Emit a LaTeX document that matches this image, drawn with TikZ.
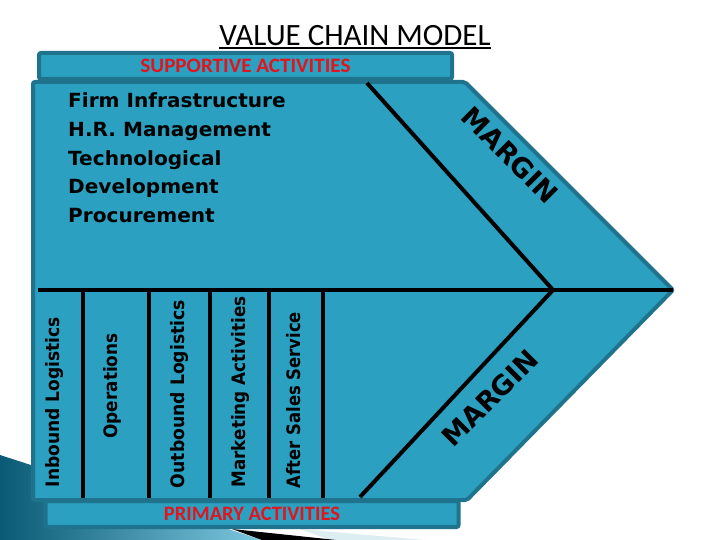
\documentclass[tikz,border=0pt]{standalone}
\usepackage{fontspec}
\setmainfont{DejaVu Sans}
\newfontfamily\calib{Carlito}
\definecolor{tealfill}{HTML}{2BA0C0}
\definecolor{tealdark}{HTML}{1F738C}
\definecolor{redlab}{HTML}{E2141E}
\definecolor{deepblue}{HTML}{0A5A75}
\definecolor{lightblue}{HTML}{7CC8E0}
\definecolor{palegray}{HTML}{DDEEF3}
\newcommand\fitlen[2]{\resizebox{#1}{\height}{#2}}
\tikzset{
  barbox/.style={draw=tealdark, line width=4pt, fill=tealfill, rounded corners=2pt,
    minimum width=413pt, minimum height=26pt, inner sep=0pt,
    text=redlab, font=\calib\bfseries\fontsize{20.5}{20.5}\selectfont},
  divline/.style={line width=4pt, black},
  vlabel/.style={rotate=90, font=\bfseries\fontsize{18.5}{18.5}\selectfont, inner sep=0pt},
  marginlab/.style={font=\bfseries\fontsize{27}{27}\selectfont, inner sep=0pt}
}
\begin{document}
\begin{tikzpicture}[x=1pt,y=-1pt]
\useasboundingbox (0,0) rectangle (720,540);
% background decoration (slide template)
\shade[left color=deepblue, right color=lightblue] (0,455) -- (262,540) -- (0,540) -- cycle;
\fill[palegray] (300,529) -- (425,540) -- (330,540) -- cycle;
\fill[black] (232,529) -- (336,540) -- (262,540) -- cycle;
% title
\node[font=\calib\fontsize{31}{31}\selectfont, inner sep=0pt] (title) at (355,36) {VALUE CHAIN MODEL};
\draw[line width=2pt] ([yshift=-2pt]title.south west) -- ([yshift=-2pt]title.south east);
% chevron
\filldraw[fill=tealfill, draw=tealdark, line width=4pt, rounded corners=2pt]
  (33,82) -- (465,82) -- (673,290) -- (467,500) -- (33,500) -- cycle;
% bars
\node[barbox] (sup) at (245.5,66) {\scalebox{1.03}[1]{SUPPORTIVE ACTIVITIES}};
\node[barbox] (prim) at (252,514) {PRIMARY ACTIVITIES};
% structure lines
\coordinate (hl) at (38,290);
\coordinate (tip) at (673,290);
\coordinate (apex) at (553,290);
\coordinate (ut) at (367,83);
\coordinate (lb) at (360,497);
\draw[divline] (hl) -- (tip);
\draw[divline, line join=round] (ut) -- (apex) -- (lb);
\foreach \x [count=\i] in {83,149,210,269,323}{
  \coordinate (v\i t) at (\x,290);
  \coordinate (v\i b) at (\x,498);
  \draw[divline] (v\i t) -- (v\i b);
}
% support text
\node[anchor=base west, inner sep=0pt, font=\bfseries\fontsize{19.5}{28.6}\selectfont] (supp) at (68,108)
  {\scalebox{1.03}[1]{\begin{tabular}[t]{@{}l@{}}Firm Infrastructure\\H.R. Management\\Technological\\Development\\Procurement\end{tabular}}};
% primary labels
\node[vlabel] (inb) at (54,402) {\fitlen{170pt}{Inbound Logistics}};
\node[vlabel] (ops) at (112,386) {\fitlen{105pt}{Operations}};
\node[vlabel] (outb) at (179,394) {\fitlen{188pt}{Outbound Logistics}};
\node[vlabel] (mkt) at (240,392) {\fitlen{191pt}{Marketing Activities}};
\node[vlabel] (after) at (294,400) {\fitlen{176pt}{After Sales Service}};
% margin labels
\node[marginlab, rotate=-45] (m1) at (510,155) {MARGIN};
\node[marginlab, rotate=45] (m2) at (490,398) {MARGIN};
\end{tikzpicture}
\end{document}
